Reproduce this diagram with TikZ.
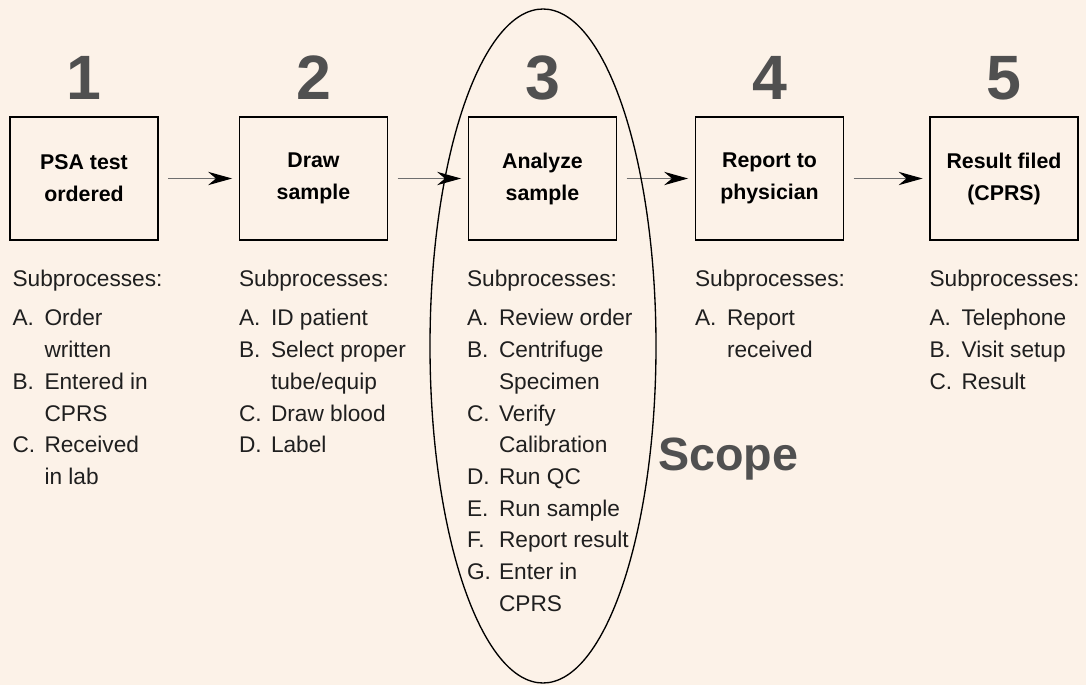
\documentclass[tikz,border=0pt]{standalone}
\usepackage{fontspec}
\setmainfont{Liberation Sans}
\usetikzlibrary{arrows.meta,calc,positioning}

\definecolor{paper}{RGB}{252,242,232}
\definecolor{bignum}{RGB}{80,80,80}
\definecolor{flowgray}{RGB}{110,110,110}

\newcommand{\itm}[2]{\strut\makebox[24pt][l]{#1}#2}
\newcommand{\cnt}[1]{\strut\hspace*{24pt}#1}

\begin{document}
\begin{tikzpicture}[x=0.75pt, y=-0.75pt,
  box/.style={draw, line width=1.1pt, minimum width=111pt, minimum height=92pt,
    inner sep=0pt, align=center, font=\fontsize{16}{24}\selectfont\bfseries},
  num/.style={anchor=base, inner sep=0pt, text=bignum,
    font=\fontsize{47}{50}\selectfont\bfseries},
  sub/.style={anchor=base west, inner sep=0pt, text=black!88,
    font=\fontsize{17}{23.8}\selectfont},
  lst/.style={sub, anchor=north west, align=left},
  flow/.style={draw=flowgray, line width=1.1pt,
    -{Stealth[length=18pt, width=10pt, color=black]},
    shorten <=7pt, shorten >=5pt}]

  \useasboundingbox (0,0) rectangle (1086,685);
  \fill [paper] (0,0) rectangle (1086,685);

  % steps
  \node (b1) [box] at (84,178.5) {PSA test\\ordered};
  \node (b2) [box] at (313.5,178.5) {Draw\\sample};
  \node (b3) [box] at (542.5,178.5) {Analyze\\sample};
  \node (b4) [box] at (769.5,178.5) {Report to\\physician};
  \node (b5) [box] at (1004,178.5) {Result filed\\(CPRS)};

  \node (n1) [num] at ($(b1.north)+(0,-17)$) {1};
  \node (n2) [num] at ($(b2.north)+(0,-17)$) {2};
  \node (n3) [num] at ($(b3.north)+(0,-17)$) {3};
  \node (n4) [num] at ($(b4.north)+(0,-17)$) {4};
  \node (n5) [num] at ($(b5.north)+(0,-17)$) {5};

  \path [flow] (b1) edge (b2) ;
  \path [flow] (b2) edge (b3) ;
  \path [flow] (b3) edge (b4) ;
  \path [flow] (b4) edge (b5) ;

  % subprocesses
  \node (s1) [sub] at ($(b1.south west)+(3,46)$) {Subprocesses:};
  \node (s2) [sub] at ($(b2.south west)+(0,46)$) {Subprocesses:};
  \node (s3) [sub] at ($(b3.south west)+(-1,46)$) {Subprocesses:};
  \node (s4) [sub] at ($(b4.south west)+(0,46)$) {Subprocesses:};
  \node (s5) [sub] at ($(b5.south west)+(0,46)$) {Subprocesses:};

  \node (l1) [lst] at ($(s1.base west)+(0,16.8)$)
    {\itm{A.}{Order}\\\cnt{written}\\\itm{B.}{Entered in}\\\cnt{CPRS}\\
     \itm{C.}{Received}\\\cnt{in lab}};
  \node (l2) [lst] at ($(s2.base west)+(0,16.8)$)
    {\itm{A.}{ID patient}\\\itm{B.}{Select proper}\\\cnt{tube/equip}\\
     \itm{C.}{Draw blood}\\\itm{D.}{Label}};
  \node (l3) [lst] at ($(s3.base west)+(0,16.8)$)
    {\itm{A.}{Review order}\\\itm{B.}{Centrifuge}\\\cnt{Specimen}\\
     \itm{C.}{Verify}\\\cnt{Calibration}\\\itm{D.}{Run QC}\\
     \itm{E.}{Run sample}\\\itm{F.}{Report result}\\\itm{G.}{Enter in}\\\cnt{CPRS}};
  \node (l4) [lst] at ($(s4.base west)+(0,16.8)$)
    {\itm{A.}{Report}\\\cnt{received}};
  \node (l5) [lst] at ($(s5.base west)+(0,16.8)$)
    {\itm{A.}{Telephone}\\\itm{B.}{Visit setup}\\\itm{C.}{Result}};

  % scope
  \draw [line width=1pt] (543,346) ellipse [x radius=84.75pt, y radius=252.75pt];
  \node (scope) [anchor=base west, inner sep=0pt, text=bignum,
    font=\fontsize{35}{40}\selectfont\bfseries] at (658,470) {Scope};

\end{tikzpicture}
\end{document}
